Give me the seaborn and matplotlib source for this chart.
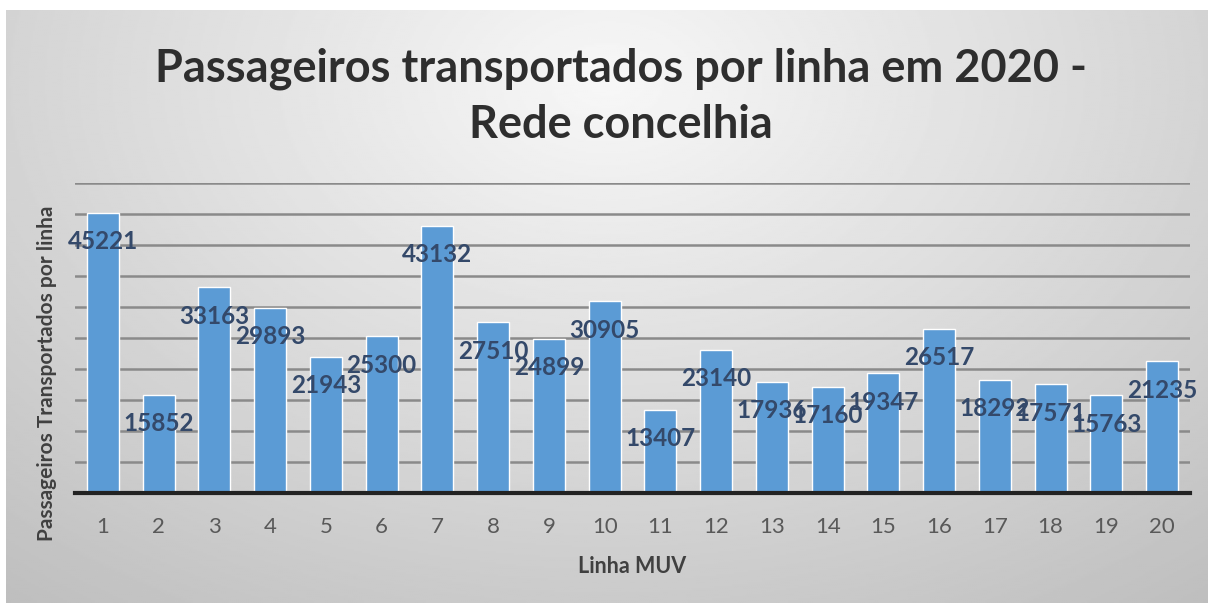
import numpy as np
import pandas as pd
import seaborn as sns
import matplotlib.pyplot as plt

# data
linhas = [str(i) for i in range(1, 21)]
passageiros = [45221, 15852, 33163, 29893, 21943, 25300, 43132, 27510, 24899, 30905,
               13407, 23140, 17936, 17160, 19347, 26517, 18292, 17571, 15763, 21235]
df = pd.DataFrame({'linha': linhas, 'passageiros': passageiros})

sns.set_theme(style='white')
plt.rcParams['font.family'] = ['Lato', 'DejaVu Sans']

fig = plt.figure(figsize=(12.08, 6.03), dpi=100)
fig.patch.set_facecolor('white')

# gradient background (light centre, grey edges)
bg = fig.add_axes([6 / 1208, 0, 1 - 6 / 1208, 1 - 10 / 603], zorder=-5)
yy, xx = np.mgrid[0:1:300j, 0:1:600j]
r = np.sqrt(((xx - 0.5) / 0.72) ** 2 + ((yy - 0.12) / 1.0) ** 2)
shade = 0.97 - 0.2 * np.clip(r, 0, 1.2)
bg.imshow(np.clip(shade, 0, 1), cmap='gray', vmin=0, vmax=1, aspect='auto',
          extent=[0, 1, 0, 1], origin='upper')
bg.axis('off')

ax = fig.add_axes([75 / 1208, 1 - 493 / 603, 1115 / 1208, (493 - 183) / 603])
ax.patch.set_alpha(0)

sns.barplot(data=df, x='linha', y='passageiros', color='#5b9bd5', saturation=1,
            width=0.575, ax=ax, zorder=3)

ax.set_ylim(0, 50000)
ax.set_xlim(-0.5, 19.5)
ax.set_yticks(np.arange(5000, 50001, 5000))
ax.set_yticklabels([])
ax.tick_params(axis='y', length=0)
ax.yaxis.grid(True, color='#8a8a8a', linewidth=1.8, zorder=0)
ax.set_axisbelow(True)
for s in ['top', 'right', 'left']:
    ax.spines[s].set_visible(False)
ax.spines['bottom'].set_color('#222222')
ax.spines['bottom'].set_linewidth(3)
ax.spines['bottom'].set_zorder(4)
ax.tick_params(axis='x', length=0, pad=17, labelsize=16, labelcolor='#595959')

for i, v in enumerate(passageiros):
    ax.annotate(str(v), (i, v), xytext=(0, -29), textcoords='offset pixels',
                ha='center', va='center', fontsize=17.5, fontweight='bold',
                color='#34496a', zorder=5)

ax.set_xlabel('Linha MUV', fontsize=15.5, fontweight='bold', color='#404040', labelpad=14)
ax.set_ylabel('Passageiros Transportados por linha', fontsize=15, fontweight='bold',
              color='#404040', labelpad=4)
ax.yaxis.set_label_coords(-0.016, 0.385)

fig.text(0.514, 1 - 97 / 603, 'Passageiros transportados por linha em 2020 -\nRede concelhia',
         ha='center', va='center', fontsize=32.5, fontweight='bold', color='#2e2e2e',
         linespacing=1.4)

fig.savefig('out.png', dpi=100)
